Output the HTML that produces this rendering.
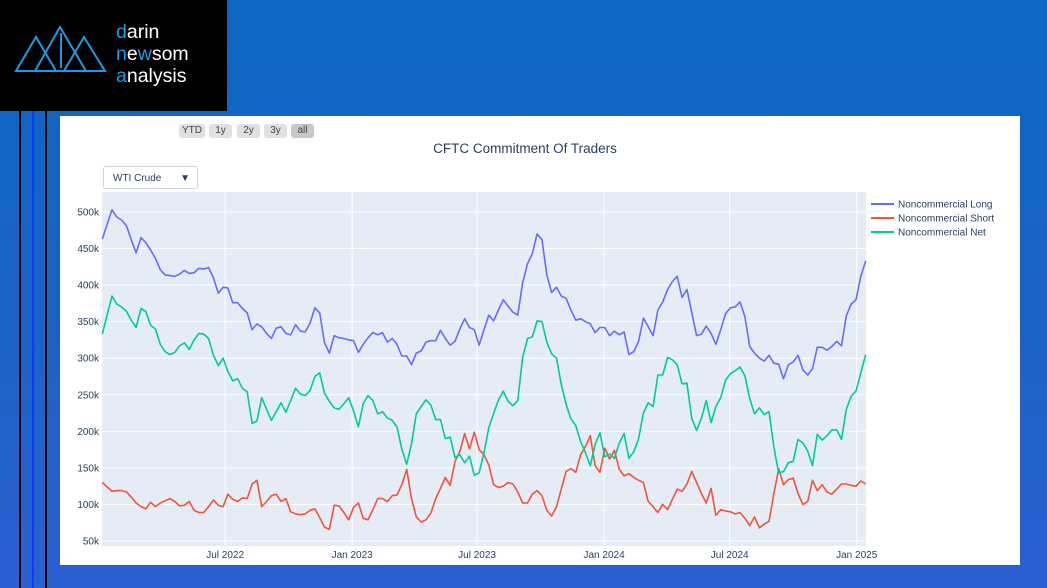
<!DOCTYPE html>
<html><head><meta charset="utf-8">
<style>
html,body{margin:0;padding:0;}
body{width:1047px;height:588px;overflow:hidden;position:relative;background:linear-gradient(180deg,#0c66c2 0%,#1d62c6 60%,#2b5fd2 100%);font-family:"Liberation Sans",sans-serif;}
#logo{position:absolute;left:0;top:0;width:227px;height:111px;background:#000;}
.vl{position:absolute;top:111px;bottom:0;width:2px;}
#panel{position:absolute;left:60px;top:116px;width:960px;height:449px;background:#fff;}
.btn{position:absolute;top:124px;height:14px;background:#e1e1e1;border-radius:3px;font-size:10px;color:#444;text-align:center;line-height:14px;}
#dd{position:absolute;left:103px;top:166px;width:95px;height:23px;border:1px solid #d0d4dc;border-radius:3px;background:#fff;font-size:10px;color:#2a3f5f;line-height:23px;box-sizing:border-box;padding-left:9px;}
</style></head><body>
<div id="logo">
<svg width="227" height="111">
<g stroke="#1e9be0" stroke-width="2" fill="none">
<polygon points="16,71 36,37 56,71"/><polygon points="35,71 60,27 86,71"/><polygon points="64,71 84,37 105,71"/>
<line x1="61" y1="33" x2="61" y2="68"/>
</g>
<text x="116" y="38" font-size="19.5" fill="#fff" font-family="Liberation Sans"><tspan fill="#1e9be0">d</tspan>arin</text>
<text x="116" y="60" font-size="19.5" fill="#fff" font-family="Liberation Sans"><tspan fill="#1e9be0">n</tspan>e<tspan fill="#1e9be0">w</tspan>som</text>
<text x="116" y="82" font-size="19.5" fill="#fff" font-family="Liberation Sans"><tspan fill="#1e9be0">a</tspan>nalysis</text>
</svg></div>
<div class="vl" style="left:19px;background:#000"></div>
<div class="vl" style="left:32px;background:#0a3cff"></div>
<div class="vl" style="left:45px;background:#000"></div>
<div id="panel"></div>
<div class="btn" style="left:179px;width:26px">YTD</div>
<div class="btn" style="left:209px;width:23px">1y</div>
<div class="btn" style="left:237px;width:23px">2y</div>
<div class="btn" style="left:264px;width:23px">3y</div>
<div class="btn" style="left:291px;width:23px;background:#c8c8c8">all</div>
<div id="dd">WTI Crude<span style="position:absolute;right:7px;top:0;font-size:10px">▼</span></div>
<svg id="chart" width="1047" height="588" style="position:absolute;left:0;top:0"></svg>
<script>
const startDate = "2022-01-04";
const longVals = [463,483,503,493,489,481,462,444,465,458,448,437,421,414,413,412,415,420,416,417,423,422,424,410,389,397,396,376,376,368,362,339,347,343,334,327,341,343,334,332,346,337,336,348,369,362,321,307,331,328,327,325,324,308,319,328,335,332,335,322,327,319,303,303,291,307,310,322,324,324,338,327,318,323,340,354,342,339,318,
339,359,351,366,380,371,363,359,403,429,443,470,462,414,390,397,385,382,366,352,354,350,347,335,342,342,331,337,332,336,305,309,323,355,343,331,366,377,394,405,412,383,394,363,331,333,344,334,319,339,361,369,370,377,357,316,307,300,296,304,293,292,272,291,295,304,284,277,286,315,315,311,316,323,317,358,374,380,412,433];
const shortVals = [130,124,118,119,119,117,110,102,97,94,103,97,102,105,108,104,98,99,104,92,89,89,97,106,99,97,114,107,104,109,108,128,133,97,104,112,114,104,108,90,87,86,87,92,94,82,69,66,99,98,89,79,96,102,81,79,93,108,108,104,112,113,127,148,108,83,76,79,88,108,122,137,126,159,172,197,176,199,175,
168,154,127,123,125,130,128,117,102,102,114,119,112,92,84,97,121,145,149,144,168,179,194,153,144,177,162,174,148,139,142,137,133,130,104,97,89,100,93,107,121,118,128,145,130,115,102,122,85,93,91,90,87,89,81,71,83,68,73,77,115,149,127,134,136,115,100,104,133,119,127,117,114,121,128,128,126,125,132,128];
const netVals = [333,359,385,374,370,364,352,342,368,364,345,340,319,309,305,308,317,321,312,325,334,333,327,304,290,300,282,269,272,259,254,211,214,246,230,215,227,239,226,242,259,251,249,256,275,280,252,241,232,230,238,246,228,206,238,249,242,224,227,218,215,206,176,155,183,224,234,243,236,216,216,190,192,164,168,157,166,140,143,
171,205,224,243,255,241,235,242,301,327,329,351,350,322,306,300,264,237,217,208,186,171,153,182,198,165,169,163,184,197,163,172,190,225,239,234,277,277,301,298,291,265,266,218,201,218,242,212,234,246,270,279,283,288,276,245,224,232,223,227,178,143,145,157,159,189,184,173,153,196,188,194,202,202,189,230,248,255,280,305];
const yTicks = [50,100,150,200,250,300,350,400,450,500];
const xTickDates = ["2022-07-01","2023-01-01","2023-07-01","2024-01-01","2024-07-01","2025-01-01"];
const xTickLabels = ["Jul 2022","Jan 2023","Jul 2023","Jan 2024","Jul 2024","Jan 2025"];
const seriesNames = ["Noncommercial Long","Noncommercial Short","Noncommercial Net"];

const NS="http://www.w3.org/2000/svg";
const svg=document.getElementById('chart');
const L=102,R=866,T=192,B=546;
const DAY=86400000, t0=Date.parse(startDate);
function xDate(d){return 102.3+((Date.parse(d)-t0)/DAY)*0.6902;}
function xIdx(i){return 102.3+i*7*0.6902;}
function y(v){return 541-(v-50)*0.7311;}
function mk(tag,attrs){const e=document.createElementNS(NS,tag);for(const k in attrs)e.setAttribute(k,attrs[k]);svg.appendChild(e);return e;}
let bg=mk('rect',{x:L,y:T,width:R-L,height:B-T,fill:'#e5ecf6'});


yTicks.forEach(v=>{
  const g=mk('line',{x1:L,x2:R,y1:y(v),y2:y(v),stroke:'#fff','stroke-width':1});
  
  
  const t=mk('text',{x:L-3,y:y(v)+3.5,'text-anchor':'end','font-size':10,fill:'#2a3f5f','font-family':'Liberation Sans'});
  t.textContent=v+'k';
  
  
});
xTickDates.forEach((d,i)=>{
  const x=xDate(d);
  const g=mk('line',{x1:x,x2:x,y1:T,y2:B,stroke:'#fff','stroke-width':1});
  
  
  const t=mk('text',{x:x,y:B+12,'text-anchor':'middle','font-size':10,fill:'#2a3f5f','font-family':'Liberation Sans'});
  t.textContent=xTickLabels[i];
  
  
});
const colors=['#636efa','#ef553b','#00cc96'];
[longVals,shortVals,netVals].forEach((arr,s)=>{
  const p=mk('polyline',{points:arr.map((v,i)=>xIdx(i).toFixed(1)+','+y(v).toFixed(1)).join(' '),fill:'none',stroke:colors[s],'stroke-width':1.6,'stroke-linejoin':'round'});
  
  
  const ly=204+s*14;
  const ll=mk('line',{x1:871,x2:894,y1:ly,y2:ly,stroke:colors[s],'stroke-width':2});
  
  
  const lt=mk('text',{x:898,y:ly+3.5,'font-size':10,fill:'#2a3f5f','font-family':'Liberation Sans'});
  lt.textContent=seriesNames[s];
  
  
});
const title=mk('text',{x:525,y:153,'text-anchor':'middle','font-size':13.5,fill:'#2a3f5f','font-family':'Liberation Sans'});
title.textContent='CFTC Commitment Of Traders';


</script>
</body></html>
